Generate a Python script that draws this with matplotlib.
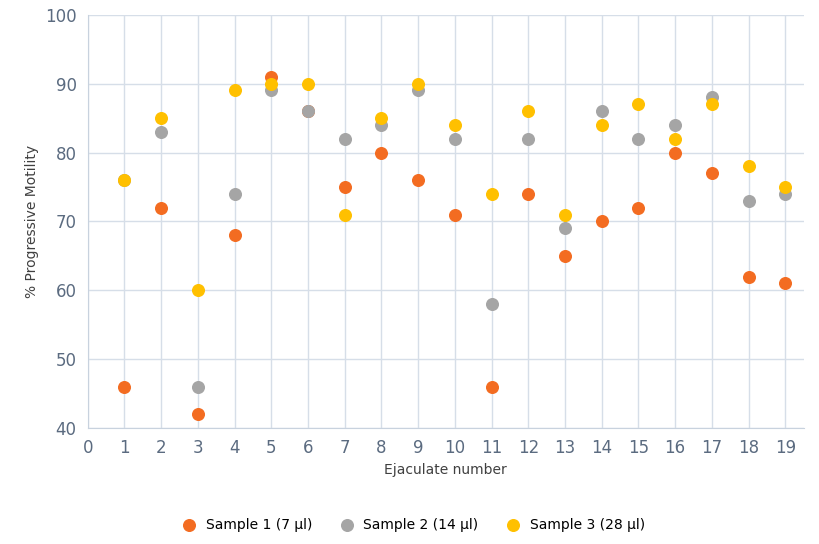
import matplotlib.pyplot as plt

ejaculate = list(range(1, 20))
sample1 = [46, 72, 42, 68, 91, 86, 75, 80, 76, 71, 46, 74, 65, 70, 72, 80, 77, 62, 61]
sample2 = [76, 83, 46, 74, 89, 86, 82, 84, 89, 82, 58, 82, 69, 86, 82, 84, 88, 73, 74]
sample3 = [76, 85, 60, 89, 90, 90, 71, 85, 90, 84, 74, 86, 71, 84, 87, 82, 87, 78, 75]

fig = plt.figure(figsize=(8.2, 5.44), dpi=100)
ax = fig.add_axes([0.107, 0.213, 0.873, 0.76])

ax.scatter(ejaculate, sample1, s=70, color='#f36c21', label='Sample 1 (7 µl)', zorder=3)
ax.scatter(ejaculate, sample2, s=70, color='#a5a5a5', label='Sample 2 (14 µl)', zorder=3)
ax.scatter(ejaculate, sample3, s=70, color='#ffc000', label='Sample 3 (28 µl)', zorder=3)

ax.set_xlim(0, 19.5)
ax.set_ylim(40, 100)
ax.set_xticks(range(0, 20))
ax.set_yticks(range(40, 101, 10))
ax.grid(True, color='#d6dee8', linewidth=1)
ax.set_axisbelow(True)
for s in ['top', 'right']:
    ax.spines[s].set_visible(False)
for s in ['left', 'bottom']:
    ax.spines[s].set_color('#c8d2de')
ax.tick_params(colors='#5b6b80', labelsize=12, length=0, pad=8)
ax.set_xlabel('Ejaculate number', fontsize=10, color='#404040')
ax.set_ylabel('% Progressive Motility', fontsize=10, color='#404040')

fig.legend(loc='lower center', ncol=3, frameon=False, fontsize=10,
           bbox_to_anchor=(0.5, 0.0), handletextpad=0.2, columnspacing=1.5)

fig.savefig('out.png')
